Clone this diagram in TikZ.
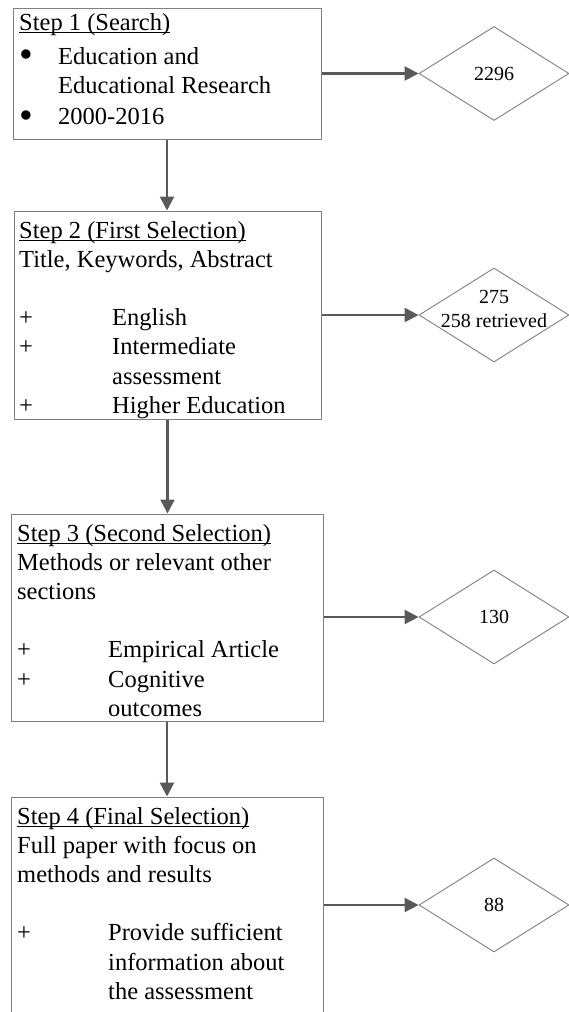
\documentclass[tikz,border=0pt]{standalone}
\usepackage{fontspec}
\setmainfont{Liberation Serif}
\usetikzlibrary{arrows.meta,shapes.geometric}
\definecolor{boxgray}{HTML}{7F7F7F}
\definecolor{arrgray}{HTML}{595959}
\newcommand{\ulbox}[1]{\leavevmode\setbox0\hbox{#1}\rlap{\rule[-3pt]{\wd0}{1.1pt}}\box0}
\newcommand{\boxfont}{\fontsize{24.5pt}{29.2pt}\selectfont}
\newcommand{\bigdot}{\raisebox{-3.5pt}{\scalebox{1.6}{•}}}
\begin{document}
\begin{tikzpicture}[x=1pt,y=-1pt,
  stepbox/.style={draw=boxgray, line width=1pt, rectangle, inner sep=0pt},
  txt/.style={anchor=base west, inner sep=0pt, font=\boxfont},
  dia/.style={draw=boxgray, line width=0.9pt, shape=diamond, inner sep=0pt,
              minimum width=150pt, minimum height=94pt},
  dtxt/.style={inner sep=0pt, align=center, font=\fontsize{20pt}{24pt}\selectfont},
  arr/.style={draw=arrgray, line width=2.5pt, -{Triangle[length=14pt,width=14pt]}}]
\useasboundingbox (0,0) rectangle (569,1012);
\clip (0,0) rectangle (569,1012);

% step boxes
\node[stepbox, minimum width=308pt, minimum height=131pt] (b1) at (167,73.5) {};
\node[stepbox, minimum width=307pt, minimum height=208pt] (b2) at (167.5,315) {};
\node[stepbox, minimum width=312pt, minimum height=207pt] (b3) at (167,617.5) {};
\node[stepbox, minimum width=312pt, minimum height=243pt] (b4) at (167,918.5) {};

% box texts
\node[txt] (t1) at (19,30) {\parbox[t]{300pt}{\boxfont
\ulbox{Step 1 (Search)}\\[5pt]
\makebox[39pt][l]{\bigdot}Education and\\
\hspace*{39pt}Educational Research\\[2pt]
\makebox[39pt][l]{\bigdot}2000-2016}};

\node[txt] (t2) at (19,238) {\parbox[t]{300pt}{\boxfont
\ulbox{Step 2 (First Selection)}\\
Title, Keywords, Abstract\\
\mbox{}\\
\makebox[93pt][l]{+}English\\
\makebox[93pt][l]{+}Intermediate\\
\hspace*{93pt}assessment\\
\makebox[93pt][l]{+}Higher Education}};

\node[txt] (t3) at (17,541) {\parbox[t]{300pt}{\boxfont
\ulbox{Step 3 (Second Selection)}\\
Methods or relevant other\\
sections\\
\mbox{}\\
\makebox[91pt][l]{+}Empirical Article\\
\makebox[91pt][l]{+}Cognitive\\
\hspace*{91pt}outcomes}};

\node[txt] (t4) at (17,824) {\parbox[t]{300pt}{\boxfont
\ulbox{Step 4 (Final Selection)}\\
Full paper with focus on\\
methods and results\\
\mbox{}\\
\makebox[91pt][l]{+}Provide sufficient\\
\hspace*{91pt}information about\\
\hspace*{91pt}the assessment}};

% result diamonds
\node[dia] (d1) at (494,73.5) {};
\node[dia] (d2) at (494,315) {};
\node[dia] (d3) at (494,617) {};
\node[dia] (d4) at (494,905) {};

\node[dtxt] (l1) at (d1) {2296};
\node[dtxt] (l2) at (494,309) {275\\258 retrieved};
\node[dtxt] (l3) at (d3) {130};
\node[dtxt] (l4) at (d4) {88};

% connectors
\draw[arr] (b1.east) -- (d1.west);
\draw[arr] (b2.east) -- (d2.west);
\draw[arr] (b3.east |- d3.west) -- (d3.west);
\draw[arr] (b4.east |- d4.west) -- (d4.west);

\draw[arr] (b1.south) -- (b1.south |- b2.north);
\draw[arr] (b2.south) -- (b2.south |- b3.north);
\draw[arr] (b3.south) -- (b3.south |- b4.north);
\end{tikzpicture}
\end{document}
